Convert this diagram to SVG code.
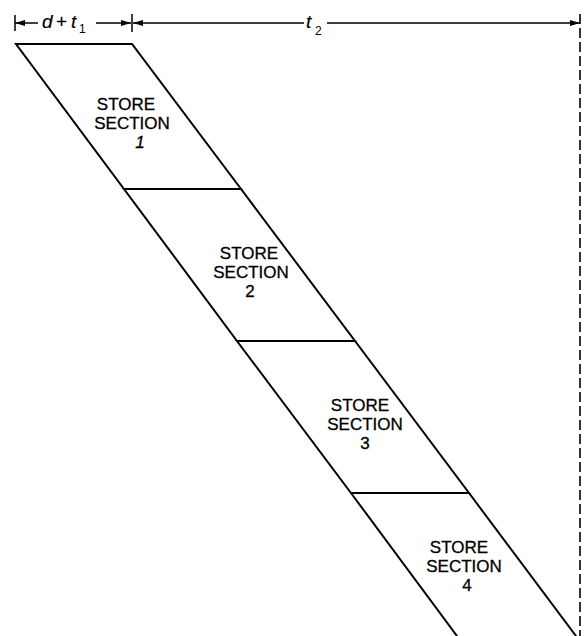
<svg xmlns="http://www.w3.org/2000/svg" width="588" height="636" viewBox="0 0 588 636">
<defs>
<marker id="arr" viewBox="0 0 10 6" refX="10" refY="3" markerWidth="10" markerHeight="6" markerUnits="userSpaceOnUse" orient="auto-start-reverse">
<path d="M0,0 L10,3 L0,6 Z" fill="#000"/>
</marker>
</defs>
<style>
.edge{stroke:#000;stroke-width:2;fill:none;stroke-linecap:round}
.dim{stroke:#000;stroke-width:1.5;fill:none}
.lbl{font-family:"Liberation Sans",Arial,sans-serif;font-size:17px;fill:#000;stroke:#000;stroke-width:0.3;text-anchor:middle}
.var{font-family:"Liberation Sans",Arial,sans-serif;font-size:19px;fill:#000;stroke:#000;stroke-width:0.2}
.sub{font-family:"Liberation Sans",Arial,sans-serif;font-size:12px;fill:#000}
</style>
<rect width="588" height="636" fill="#fff"/>
<g id="connectors">
<line class="dim" x1="15" y1="15" x2="15" y2="31"/>
<line class="dim" x1="132" y1="14" x2="132" y2="32"/>
<line class="dim" x1="15" y1="23" x2="38" y2="23" marker-start="url(#arr)"/>
<line class="dim" x1="96" y1="23" x2="131" y2="23" marker-end="url(#arr)"/>
<line class="dim" x1="133" y1="23" x2="304" y2="23" marker-start="url(#arr)"/>
<line class="dim" x1="327" y1="23" x2="580" y2="23" marker-end="url(#arr)"/>
<line x1="580" y1="14" x2="580" y2="636" stroke="#000" stroke-width="1.6" stroke-dasharray="10,4"/>
</g>
<g id="dim-labels">
<text class="var" x="42" y="28" font-style="italic">d</text>
<text class="var" x="56" y="28">+</text>
<text class="var" x="71" y="28" font-style="italic">t</text>
<text class="sub" x="79" y="33">1</text>
<text class="var" x="306" y="28" font-style="italic">t</text>
<text class="sub" x="315" y="35">2</text>
</g>
<g id="section1">
<path class="edge" d="M16,44 L132,44 L241,189 L124,189 Z"/>
<text class="lbl" x="126" y="110">STORE</text>
<text class="lbl" x="132" y="129">SECTION</text>
<text class="lbl" x="140" y="148" font-style="italic">1</text>
</g>
<g id="section2">
<path class="edge" d="M124,189 L241,189 L355,341 L237,341 Z"/>
<text class="lbl" x="249" y="259">STORE</text>
<text class="lbl" x="251" y="278">SECTION</text>
<text class="lbl" x="250" y="297">2</text>
</g>
<g id="section3">
<path class="edge" d="M237,341 L355,341 L469,493 L351,493 Z"/>
<text class="lbl" x="360" y="411">STORE</text>
<text class="lbl" x="365" y="430">SECTION</text>
<text class="lbl" x="365" y="449">3</text>
</g>
<g id="section4">
<path class="edge" d="M351,493 L469,493 L576,636 M351,493 L457,636"/>
<text class="lbl" x="459" y="553">STORE</text>
<text class="lbl" x="464" y="572">SECTION</text>
<text class="lbl" x="467" y="591">4</text>
</g>
</svg>
